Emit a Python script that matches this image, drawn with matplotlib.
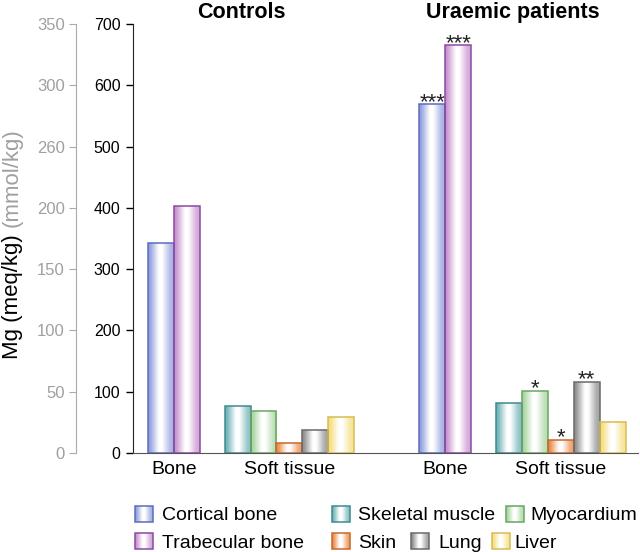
import numpy as np
import matplotlib
matplotlib.use('Agg')
import matplotlib.pyplot as plt
from matplotlib.colors import to_rgb
from matplotlib.patches import Rectangle

plt.rcParams['font.family'] = ['Liberation Sans', 'DejaVu Sans']

# ---------------- data ----------------
groups = ['Controls', 'Uraemic patients']
category_labels = ['Bone', 'Soft tissue']
bone_series = ['Cortical bone', 'Trabecular bone']
soft_series = ['Skeletal muscle', 'Myocardium', 'Skin', 'Lung', 'Liver']
bone_controls = [342, 403]
bone_uraemic = [569, 665]
soft_controls = [77, 69, 16, 38, 59]
soft_uraemic = [82, 101, 22, 116, 51]
bone_sig_uraemic = ['***', '***']
soft_sig_uraemic = ['', '*', '*', '**', '']
meq_ticks = [0, 100, 200, 300, 400, 500, 600, 700]
mmol_ticks = [0, 50, 100, 150, 200, 250, 300, 350]
mmol_tick_labels = ['0', '50', '100', '150', '200', '260', '300', '350']

fill_colors = {
    'Cortical bone': '#8c9ada', 'Trabecular bone': '#c78ccd',
    'Skeletal muscle': '#6aaeb3', 'Myocardium': '#a6d29d',
    'Skin': '#e8843e', 'Lung': '#8a8a8a', 'Liver': '#f5dc76',
}
edge_colors = {
    'Cortical bone': '#5a6dbf', 'Trabecular bone': '#8a4aa3',
    'Skeletal muscle': '#3d8a90', 'Myocardium': '#67a661',
    'Skin': '#c8692a', 'Lung': '#6a6a6a', 'Liver': '#d6bd52',
}

# ---------------- layout ----------------
W, H = 640, 552
fig = plt.figure(figsize=(W / 100, H / 100), dpi=100)
ax = fig.add_axes([133 / W, 99 / H, 505 / W, 429 / H])
ax.set_facecolor('none')

bone_center = 1.58
soft_center = 6.04
group_offset = 10.48


def grad_img(c):
    base = np.array(to_rgb(c))
    pos = [0, 0.1, 0.42, 0.55, 0.85, 1]
    wmix = [0.0, 0.15, 1.0, 1.0, 0.35, 0.2]
    t = np.linspace(0, 1, 64)
    w = np.interp(t, pos, wmix)
    rgb = base[None, :] * (1 - w[:, None]) + w[:, None]
    return rgb[None, :, :]


def draw_bars(xs, vals, names, sigs=None):
    for i, (x, v, n) in enumerate(zip(xs, vals, names)):
        bars = ax.bar([x], [v], width=1.0, facecolor='none',
                      edgecolor=edge_colors[n], linewidth=1.1, zorder=3)
        p = bars[0]
        x0, w, h = p.get_x(), p.get_width(), p.get_height()
        im = ax.imshow(grad_img(fill_colors[n]), extent=[x0, x0 + w, 0, h],
                       aspect='auto', zorder=2, interpolation='bilinear')
        im.set_clip_path(p)
        if sigs and sigs[i]:
            ax.annotate(sigs[i], (x, v), xytext=(0, -2.5),
                        textcoords='offset points', ha='center',
                        va='baseline', fontsize=16, color='#222222')


centers = []
for g, (bvals, svals) in enumerate([(bone_controls, soft_controls),
                                      (bone_uraemic, soft_uraemic)]):
    bc = bone_center + g * group_offset
    sc = soft_center + g * group_offset
    bx = bc + np.arange(len(bvals)) - (len(bvals) - 1) / 2
    sx = sc + np.arange(len(svals)) - (len(svals) - 1) / 2
    draw_bars(bx, bvals, bone_series, bone_sig_uraemic if g == 1 else None)
    draw_bars(sx, svals, soft_series, soft_sig_uraemic if g == 1 else None)
    centers += [bc, sc]

ax.set_xlim(0, 505 / 25.9)
ax.set_ylim(0, 700)
ax.set_yticks(meq_ticks)
ax.set_xticks(centers)
ax.set_xticklabels(category_labels * 2)
ax.tick_params(axis='x', length=0, pad=6, labelsize=14)
ax.tick_params(axis='y', length=5, pad=4, labelsize=11.5, width=1)
for s in ['top', 'right']:
    ax.spines[s].set_visible(False)
ax.spines['left'].set_color('#222222')
ax.spines['bottom'].set_color('#555555')

# grey secondary (mmol/kg) axis
gax = fig.add_axes([76 / W, 99 / H, 0.0001, 429 / H])
gax.set_facecolor('none')
gax.set_ylim(0, 350)
gax.set_xticks([])
gax.set_yticks(mmol_ticks)
gax.set_yticklabels(mmol_tick_labels)
for s in ['top', 'right', 'bottom']:
    gax.spines[s].set_visible(False)
gax.spines['left'].set_color('#aaaaaa')
gax.tick_params(axis='y', colors='#aaaaaa', labelcolor='#a0a0a0',
                length=5, pad=3, labelsize=12)

# titles
fig.text(241.5 / W, 1 - 18 / H, groups[0], ha='center', va='baseline',
         fontsize=15.5, fontweight='bold')
fig.text(512.7 / W, 1 - 18 / H, groups[1], ha='center', va='baseline',
         fontsize=15.5, fontweight='bold')

# y label (two colours)
fig.text(12.5 / W, 1 - 359 / H, 'Mg (meq/kg)', rotation=90, ha='center',
         va='bottom', fontsize=16, color='black')
fig.text(12.5 / W, 1 - 227 / H, '(mmol/kg)', rotation=90, ha='center',
         va='bottom', fontsize=16, color='#a0a0a0')

# legend (manual, in pixel coordinates): (name, box x, text x, row y)
lax = fig.add_axes([0, 0, 1, 1])
lax.set_facecolor('none')
lax.axis('off')
legend_layout = [
    ('Cortical bone', 135, 162, 514), ('Trabecular bone', 135, 162, 541),
    ('Skeletal muscle', 332, 358, 514), ('Skin', 332, 358, 541),
    ('Lung', 411, 438, 541), ('Myocardium', 506, 530, 514),
    ('Liver', 492, 514, 541),
]
bw, bh = 18, 15.5
for name, lx, tx, ly in legend_layout:
    lax.imshow(grad_img(fill_colors[name]),
               extent=[lx, lx + bw, ly + bh / 2, ly - bh / 2],
               aspect='auto', interpolation='bilinear', zorder=2)
    lax.add_patch(Rectangle((lx, ly - bh / 2), bw, bh, facecolor='none',
                            edgecolor=edge_colors[name], linewidth=1.1,
                            zorder=3))
    lax.text(tx, ly, name, ha='left', va='center_baseline', fontsize=14)
lax.set_xlim(0, W)
lax.set_ylim(H, 0)

fig.savefig('out.png', dpi=100)
